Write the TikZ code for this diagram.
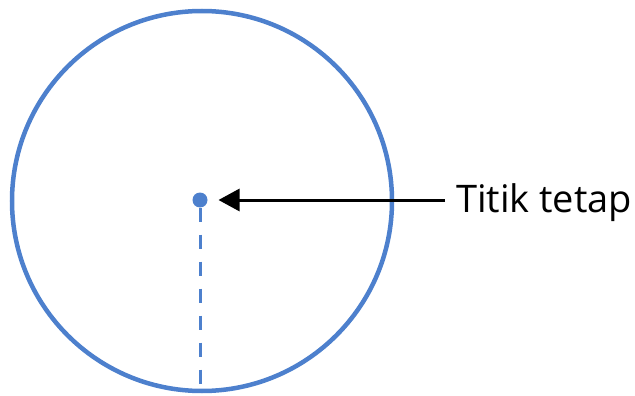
\documentclass[tikz,border=0pt]{standalone}
\usepackage{fontspec}
\setmainfont{Open Sans}
\usetikzlibrary{arrows.meta}
\definecolor{cblue}{RGB}{77,128,205}
\tikzset{
  ring/.style={circle,draw=cblue,line width=4.5pt,minimum size=380pt,inner sep=0pt,outer sep=0pt},
  centerdot/.style={circle,fill=cblue,minimum size=15pt,inner sep=0pt,outer sep=0pt},
  radiusline/.style={draw=cblue,line width=3pt,dash pattern=on 14pt off 13pt},
  pointer/.style={draw=black,line width=3pt,-{Triangle[length=21pt,width=22pt]}},
  lbl/.style={inner sep=0pt,outer sep=0pt,font=\fontsize{38}{40}\selectfont}
}
\begin{document}
\begin{tikzpicture}[x=1pt,y=-1pt]
\useasboundingbox (0,0) rectangle (635,396);
\node[ring] (circ) at (202,201) {};
\node[centerdot] (dot) at (200,200) {};
\coordinate (bottom) at (200,389);
\draw[radiusline] (dot.south) -- (bottom);
\node[lbl,anchor=base west] (label) at (456,212) {Titik tetap};
\draw[pointer,shorten <=11pt,shorten >=11pt] (label.west |- dot) -- (dot);
\end{tikzpicture}
\end{document}
